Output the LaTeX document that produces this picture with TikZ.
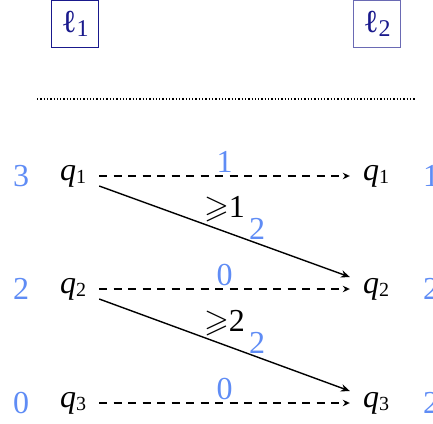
\documentclass[tikz,border=0pt]{standalone}
\usepackage{amssymb}
\usepackage{fontspec}
\setmainfont{Liberation Serif}
\usetikzlibrary{positioning,arrows.meta,calc}
\definecolor{wblue}{RGB}{95,140,245}
\definecolor{navy}{RGB}{25,25,140}
\newcommand{\lowsub}[2][20]{\raisebox{-3.5pt}{\fontsize{#1}{#1}\selectfont #2}}
\newcommand{\qst}[1]{\textit{q}\lowsub{#1}}

\begin{document}
\begin{tikzpicture}[x=1pt,y=-1pt,
  every node/.style={font=\fontsize{32}{36}\selectfont},
  st/.style={inner xsep=13pt,inner ysep=2pt},
  wt/.style={text=wblue,inner sep=0pt},
  loc/.style={draw=navy,line width=0.9pt,text=navy,minimum size=47pt,inner sep=0pt},
  dsh/.style={dash pattern=on 8pt off 6.5pt,line width=1.4pt,-{Stealth[length=7pt,width=6.5pt]}},
  sol/.style={line width=1.4pt,-{Stealth[length=9pt,width=7.5pt]}}]
  \useasboundingbox (0,0) rectangle (433,423);
  % locations
  \node[loc] (loc1) at (75,24) {ℓ\lowsub[24]{1}};
  \node[loc,draw=navy!65] (loc2) at (377,24) {ℓ\lowsub[24]{2}};
  \coordinate (sepl) at (37,99);
  \coordinate (sepr) at (415,99);
  \draw[dotted,line width=1.3pt] (sepl) -- (sepr);
  % states with weights
  \foreach \y/\a/\b/\w [count=\i] in {176/3/1/1, 289/2/2/0, 403/0/2/0} {
    \node[wt] (wl\i) at (21,\y) {\a};
    \node[st] (ql\i) at (73,\y) {\qst{\i}};
    \node[st] (qr\i) at (376,\y) {\qst{\i}};
    \node[wt] (wr\i) at (431,\y) {\b};
    \draw[dsh] (ql\i) -- (qr\i) node[wt,midway,yshift=14pt] (c\i) {\w};
  }
  \draw[sol] ([yshift=-10pt]ql1.east) -- ([yshift=12pt]qr2.west)
    node[pos=.5,yshift=22pt,inner sep=0pt] (g1) {$\geqslant$1}
    node[wt,pos=.63,yshift=14pt] (d1) {2};
  \draw[sol] ([yshift=-10pt]ql2.east) -- ([yshift=12pt]qr3.west)
    node[pos=.5,yshift=22pt,inner sep=0pt] (g2) {$\geqslant$2}
    node[wt,pos=.63,yshift=14pt] (d2) {2};
\end{tikzpicture}
\end{document}
